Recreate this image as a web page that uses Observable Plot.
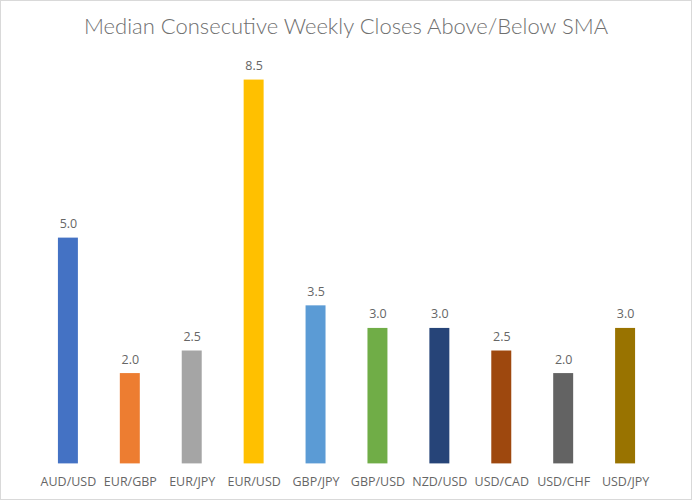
<!DOCTYPE html>
<html>
<head>
<meta charset="utf-8">
<script src="https://cdn.jsdelivr.net/npm/d3@7"></script>
<script src="https://cdn.jsdelivr.net/npm/@observablehq/plot@0.6"></script>
<style>
  html, body { margin: 0; padding: 0; background: #fff; }
  #frame { width: 692px; height: 500px; box-sizing: border-box; border: 1px solid #D9D9D9; position: relative; overflow: hidden; background:#fff; }
  #title { position: absolute; top: 0; left: 0; width: 690px; height: 50px; text-align: center;
           font-family: Lato, "Open Sans", sans-serif; font-weight: 300; font-size: 22px; color: #6f6f6f; line-height: 50px; }
  #chart { position: absolute; top: 49px; left: -1px; }
</style>
</head>
<body>
<div id="frame">
  <div id="title">Median Consecutive Weekly Closes Above/Below SMA</div>
  <div id="chart"></div>
</div>
<script>
const pairs = ["AUD/USD","EUR/GBP","EUR/JPY","EUR/USD","GBP/JPY","GBP/USD","NZD/USD","USD/CAD","USD/CHF","USD/JPY"];
const medians = [5.0, 2.0, 2.5, 8.5, 3.5, 3.0, 3.0, 2.5, 2.0, 3.0];
const colors = ["#4472C4","#ED7D31","#A5A5A5","#FFC000","#5B9BD5","#70AD47","#264478","#9E480E","#636363","#997300"];

const data = pairs.map((p, i) => ({pair: p, value: medians[i], color: colors[i]}));

const chart = Plot.plot({
  width: 692,
  height: 450,
  marginTop: 7,
  marginBottom: 36,
  marginLeft: 15,
  marginRight: 14,
  style: {fontFamily: "'Open Sans', sans-serif", fontSize: "12px", color: "#666", background: "transparent"},
  x: {domain: pairs, padding: 0.683, align: 0.5},
  y: {domain: [0, 9], axis: null},
  marks: [
    Plot.barY(data, {x: "pair", y: "value", fill: "color"}),
    Plot.text(data, {x: "pair", y: "value", text: d => d.value.toFixed(1), dy: -14, fill: "#666", fontSize: 12.5}),
    Plot.axisX({tickSize: 0, tickPadding: 13, label: null, fill: "#666", fontSize: 12.5})
  ]
});
document.getElementById("chart").appendChild(chart);
</script>
</body>
</html>
